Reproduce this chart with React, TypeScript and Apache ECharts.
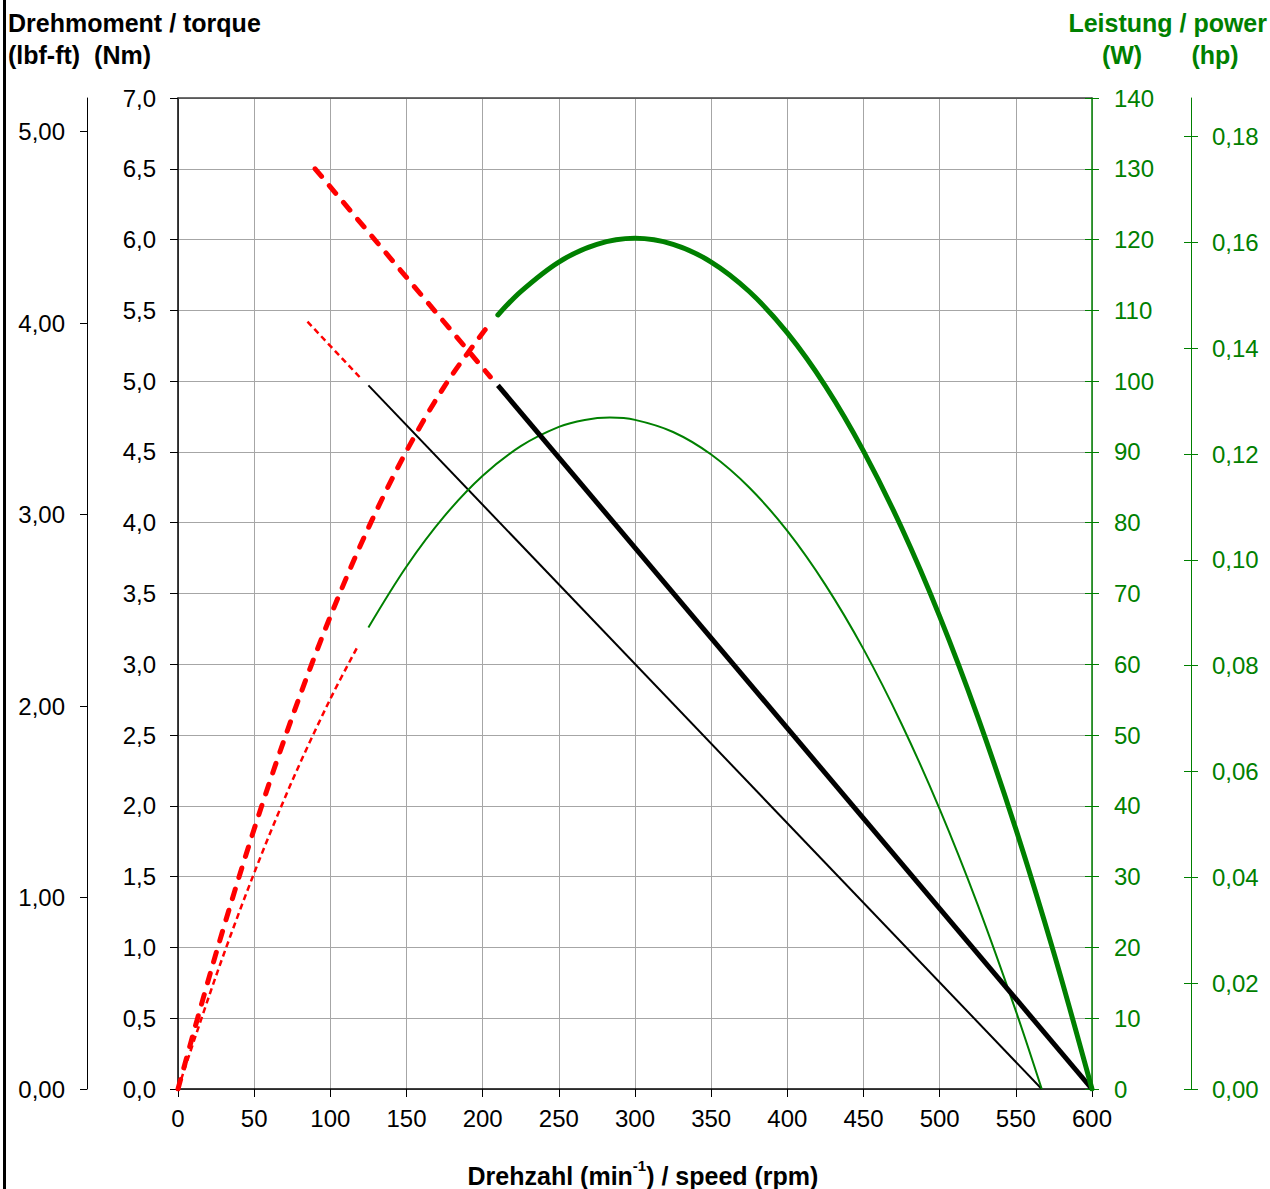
import React, { useEffect, useRef } from "react";
import * as echarts from "echarts";

// ---- data ----
// torque lines (Nm) vs speed (rpm)
const torqueHighSpeed = [210, 600];
const torqueHighNm = [4.97, 0];
const torqueHighOverSpeed = [90, 205];
const torqueHighOverNm = [6.5, 5.03];
const torqueLowSpeed = [125, 567];
const torqueLowNm = [4.97, 0];
const torqueLowOverSpeed = [85, 120];
const torqueLowOverNm = [5.42, 5.02];

// power curves (W) vs speed (rpm)
const powerHighSpeed = [210, 225, 250, 275, 300, 325, 350, 375, 400, 425, 450, 475, 500, 525, 550, 575, 600];
const powerHighW = [109.35, 112.66, 116.83, 119.33, 120.17, 119.33, 116.83, 112.66, 106.81, 99.3, 90.12, 79.28, 66.76, 52.57, 36.72, 19.19, 0];
const powerHighOverSpeed = [0, 25, 50, 75, 100, 125, 150, 175, 200, 206];
const powerHighOverW = [0, 19.19, 36.72, 52.57, 66.76, 79.28, 90.12, 99.3, 106.81, 108.37];
const powerLowSpeed = [125, 150, 175, 200, 225, 250, 267, 283.5, 300, 325, 350, 375, 400, 425, 450, 475, 500, 525, 550, 567];
const powerLowW = [65.21, 73.82, 80.96, 86.63, 90.81, 93.53, 94.52, 94.85, 94.53, 92.82, 89.63, 84.97, 78.84, 71.22, 62.14, 51.57, 39.54, 26.02, 11.03, 0];
const powerLowOverSpeed = [0, 25, 50, 75, 100, 118];
const powerLowOverW = [0, 15.99, 30.51, 43.55, 55.11, 62.53];

// axis ticks
const lbfTicks = [0, 1, 2, 3, 4, 5];
const hpTicks = [0, 0.02, 0.04, 0.06, 0.08, 0.1, 0.12, 0.14, 0.16, 0.18];

const NM_MAX = 7;
const W_MAX = 140;
const LBF_MAX = 5.175;
const HP_MAX = 0.1873;

const GREEN = "#008000";
const RED = "#ff0000";
const FONT = "'Liberation Sans', Arial, sans-serif";
const SMOOTH = 0.33;

const pairs = (xs: number[], ys: number[]) => xs.map((x, i) => [x, ys[i]]);

export default function App() {
  const ref = useRef<HTMLDivElement>(null);
  useEffect(() => {
    if (!ref.current) return;
    const chart = echarts.init(ref.current, undefined, { renderer: "svg" });
    const labelBase = { fontFamily: FONT, fontSize: 24 };
    const comma = (d: number) => (v: number) => v.toFixed(d).replace(".", ",");
    chart.setOption({
      animation: false,
      backgroundColor: "#ffffff",
      grid: { left: 178, right: 178, top: 98, bottom: 100, containLabel: false },
      xAxis: [
        {
          type: "value",
          position: "bottom",
          min: 0,
          max: 600,
          interval: 50,
          axisLine: { onZero: false, lineStyle: { color: "#000", width: 1.5 } },
          axisTick: { show: true, inside: false, length: 8, lineStyle: { color: "#000" } },
          axisLabel: { ...labelBase, color: "#000", margin: 17 },
          splitLine: { show: true, lineStyle: { color: "#a6a6a6", width: 1 } },
        },
        {
          type: "value",
          position: "top",
          min: 0,
          max: 600,
          axisLine: { onZero: false, lineStyle: { color: "#404040", width: 1.5 } },
          axisTick: { show: false },
          axisLabel: { show: false },
          splitLine: { show: false },
        },
      ],
      yAxis: [
        {
          type: "value",
          position: "left",
          min: 0,
          max: NM_MAX,
          interval: 0.5,
          axisLine: { show: true, onZero: false, lineStyle: { color: "#000", width: 1.5 } },
          axisTick: { show: true, length: 8, lineStyle: { color: "#000" } },
          axisLabel: { ...labelBase, color: "#000", margin: 22, formatter: comma(1) },
          splitLine: { show: true, lineStyle: { color: "#a6a6a6", width: 1 } },
        },
        {
          type: "value",
          position: "left",
          offset: 91,
          min: 0,
          max: LBF_MAX,
          axisLine: { show: true, onZero: false, lineStyle: { color: "#000", width: 1 } },
          axisTick: { show: true, length: 7, customValues: lbfTicks, lineStyle: { color: "#000" } },
          axisLabel: { ...labelBase, color: "#000", margin: 22, customValues: lbfTicks, formatter: comma(2) },
          splitLine: { show: false },
        },
        {
          type: "value",
          position: "right",
          min: 0,
          max: W_MAX,
          interval: 10,
          axisLine: { show: true, onZero: false, lineStyle: { color: GREEN, width: 1.5 } },
          axisTick: { show: true, length: 7, lineStyle: { color: GREEN } },
          axisLabel: { ...labelBase, color: GREEN, margin: 22 },
          splitLine: { show: false },
        },
        {
          type: "value",
          position: "right",
          min: 0,
          max: W_MAX,
          interval: 10,
          axisLine: { show: false, onZero: false },
          axisTick: { show: true, inside: true, length: 7, lineStyle: { color: GREEN } },
          axisLabel: { show: false },
          splitLine: { show: false },
        },
        {
          type: "value",
          position: "right",
          offset: 99,
          min: 0,
          max: HP_MAX,
          axisLine: { show: true, onZero: false, lineStyle: { color: GREEN, width: 1 } },
          axisTick: { show: true, length: 7, customValues: hpTicks, lineStyle: { color: GREEN } },
          axisLabel: { ...labelBase, color: GREEN, margin: 21, customValues: hpTicks, formatter: comma(2) },
          splitLine: { show: false },
        },
        {
          type: "value",
          position: "right",
          offset: 99,
          min: 0,
          max: HP_MAX,
          axisLine: { show: false, onZero: false },
          axisTick: { show: true, inside: true, length: 7, customValues: hpTicks, lineStyle: { color: GREEN } },
          axisLabel: { show: false },
          splitLine: { show: false },
        },
      ],
      series: [
        {
          type: "line",
          name: "torque low",
          yAxisIndex: 0,
          data: pairs(torqueLowSpeed, torqueLowNm),
          symbol: "none",
          lineStyle: { color: "#000", width: 2 },
        },
        {
          type: "line",
          name: "torque low overload",
          yAxisIndex: 0,
          data: pairs(torqueLowOverSpeed, torqueLowOverNm),
          symbol: "none",
          lineStyle: { color: RED, width: 2.5, type: [6, 4] },
        },
        {
          type: "line",
          name: "power low",
          yAxisIndex: 2,
          data: pairs(powerLowSpeed, powerLowW),
          symbol: "none",
          smooth: SMOOTH,
          lineStyle: { color: GREEN, width: 2 },
        },
        {
          type: "line",
          name: "power low overload",
          yAxisIndex: 2,
          data: pairs(powerLowOverSpeed, powerLowOverW),
          symbol: "none",
          smooth: SMOOTH,
          lineStyle: { color: RED, width: 2.5, type: [6, 4] },
        },
        {
          type: "line",
          name: "torque high",
          yAxisIndex: 0,
          data: pairs(torqueHighSpeed, torqueHighNm),
          symbol: "none",
          lineStyle: { color: "#000", width: 5 },
        },
        {
          type: "line",
          name: "power high",
          yAxisIndex: 2,
          data: pairs(powerHighSpeed, powerHighW),
          symbol: "none",
          smooth: SMOOTH,
          lineStyle: { color: GREEN, width: 5, cap: "round" },
        },
        {
          type: "line",
          name: "torque high overload",
          yAxisIndex: 0,
          data: pairs(torqueHighOverSpeed, torqueHighOverNm),
          symbol: "none",
          lineStyle: { color: RED, width: 5, type: [10, 12], cap: "round" },
        },
        {
          type: "line",
          name: "power high overload",
          yAxisIndex: 2,
          data: pairs(powerHighOverSpeed, powerHighOverW),
          symbol: "none",
          smooth: SMOOTH,
          lineStyle: { color: RED, width: 5, type: [10, 12], cap: "round" },
        },
      ],
      graphic: [
        { type: "rect", shape: { x: 3, y: 0, width: 3, height: 1189 }, style: { fill: "#000" } },
        {
          type: "text",
          x: 8,
          y: 23,
          style: { text: "Drehmoment / torque", font: `bold 25px ${FONT}`, fill: "#000", textVerticalAlign: "middle" },
        },
        {
          type: "text",
          x: 8,
          y: 55,
          style: { text: "(lbf-ft)  (Nm)", font: `bold 25px ${FONT}`, fill: "#000", textVerticalAlign: "middle" },
        },
        {
          type: "text",
          x: 1267,
          y: 23,
          style: { text: "Leistung / power", font: `bold 25px ${FONT}`, fill: GREEN, textAlign: "right", textVerticalAlign: "middle" },
        },
        {
          type: "text",
          x: 1122,
          y: 55,
          style: { text: "(W)", font: `bold 25px ${FONT}`, fill: GREEN, textAlign: "center", textVerticalAlign: "middle" },
        },
        {
          type: "text",
          x: 1215,
          y: 55,
          style: { text: "(hp)", font: `bold 25px ${FONT}`, fill: GREEN, textAlign: "center", textVerticalAlign: "middle" },
        },
        {
          type: "text",
          x: 643,
          y: 1173,
          style: {
            text: "{b|Drehzahl (min}{s|-1}{b|) / speed (rpm)}",
            textAlign: "center",
            textVerticalAlign: "middle",
            rich: {
              b: { fontFamily: FONT, fontWeight: "bold", fontSize: 25, fill: "#000", lineHeight: 30, verticalAlign: "bottom" },
              s: { fontFamily: FONT, fontWeight: "bold", fontSize: 15, fill: "#000", lineHeight: 30, verticalAlign: "top" },
            },
          },
        },
      ],
    });
    return () => chart.dispose();
  }, []);
  return (
    <div
      ref={ref}
      style={{ position: "absolute", left: 0, top: 0, width: 1270, height: 1189 }}
    />
  );
}
